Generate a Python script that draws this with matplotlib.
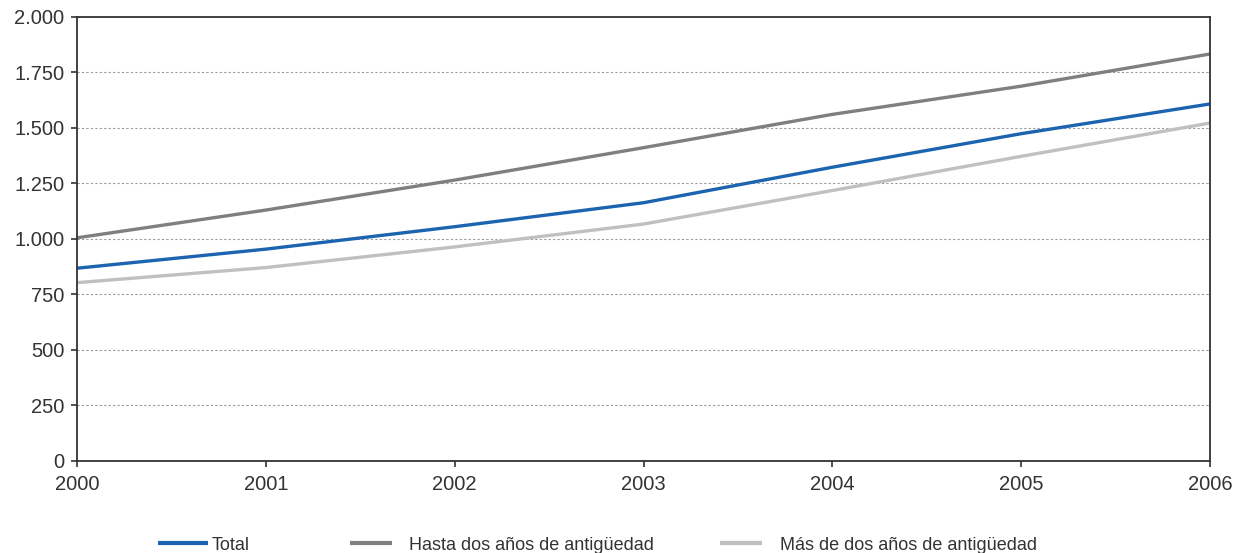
import matplotlib
matplotlib.use("Agg")
import matplotlib.pyplot as plt
from matplotlib.ticker import FuncFormatter
from matplotlib import font_manager

years = [2000, 2001, 2002, 2003, 2004, 2005, 2006]
total = [867, 953, 1054, 1162, 1322, 1473, 1607]
hasta_dos = [1004, 1129, 1264, 1410, 1560, 1687, 1832]
mas_dos = [802, 870, 963, 1066, 1217, 1371, 1521]
labels = ["Total", "Hasta dos años de antigüedad", "Más de dos años de antigüedad"]
colors = ["#1c64b0", "#7f7f82", "#c0c0c3"]
yticks = [0, 250, 500, 750, 1000, 1250, 1500, 1750, 2000]

plt.rcParams['font.family'] = ['Liberation Sans', 'DejaVu Sans']
names = {f.name for f in font_manager.fontManager.ttflist}
narrow = 'Liberation Sans Narrow' if 'Liberation Sans Narrow' in names else 'Liberation Sans'

fig = plt.figure(figsize=(12.38, 5.53), dpi=100)
ax = fig.add_axes([77/1238, 1-460.7/553, (1210-77)/1238, (460.7-16.7)/553])

handles = []
for vals, lab, c in zip([total, hasta_dos, mas_dos], labels, colors):
    h, = ax.plot(years, vals, color=c, lw=2.4, label=lab, solid_capstyle='butt')
    handles.append(h)

ax.set_xlim(years[0], years[-1])
ax.set_ylim(0, 2000)
ax.set_xticks(years)
ax.set_yticks(yticks)
ax.yaxis.set_major_formatter(FuncFormatter(lambda v, p: f"{int(v):,}".replace(",", ".")))

for y in yticks[1:-1]:
    ax.axhline(y, color="#9a9a9a", lw=0.8, ls=(0, (2, 2)), zorder=0)

for s in ax.spines.values():
    s.set_color("#333333")
    s.set_linewidth(1.3)

ax.tick_params(axis='both', direction='out', length=4, width=1.2, color="#333333",
               labelsize=14.5, labelcolor="#333333")
ax.tick_params(axis='y', pad=5)
ax.tick_params(axis='x', pad=6)

if narrow == 'Liberation Sans Narrow':
    lfs = 15
else:
    lfs = 13
# legend entries: (handle start px, handle length px, handle-text gap px)
spec = [(158, 50, 4), (350, 42, 17), (720, 42, 18)]
for h, lab, (x0, hl, gap) in zip(handles, labels, spec):
    fpx = lfs * 100 / 72
    lg = fig.legend([h], [lab], loc='center left', bbox_to_anchor=(x0/1238, 1-545/553),
                    frameon=False, borderpad=0, borderaxespad=0,
                    prop={'family': [narrow, 'DejaVu Sans'], 'size': lfs},
                    handlelength=hl/fpx, handletextpad=gap/fpx, labelcolor="#333333")
    for ln in lg.get_lines():
        ln.set_linewidth(3.0)

fig.savefig("out.png", dpi=100)
